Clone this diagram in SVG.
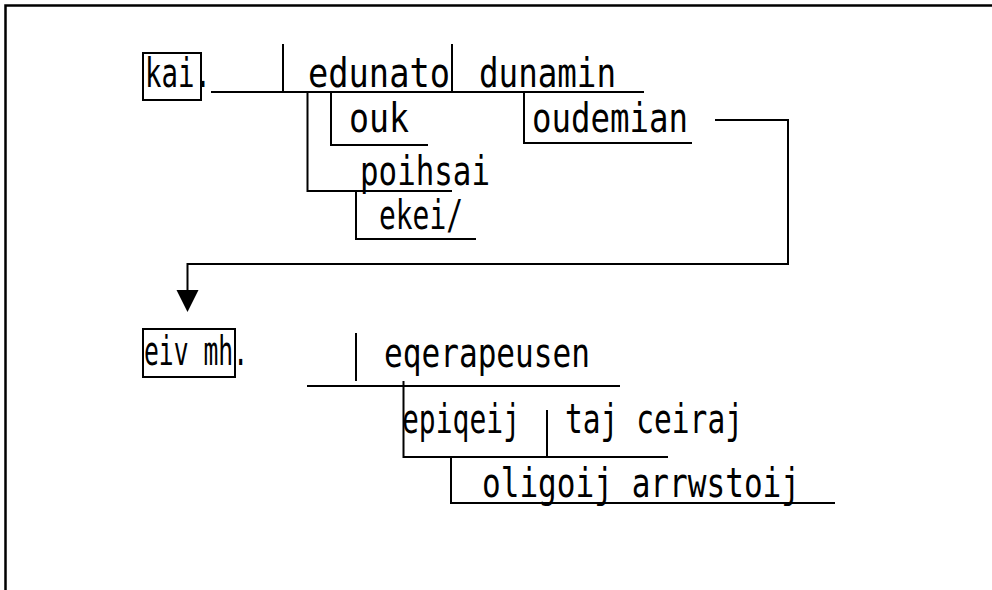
<svg xmlns="http://www.w3.org/2000/svg" width="992" height="590" viewBox="0 0 992 590">
<style>
.ln{fill:none;stroke:#000;stroke-width:2}
.bx{fill:none;stroke:#000;stroke-width:2}
.t{font-family:"DejaVu Sans Mono","Liberation Mono",monospace;font-size:41px;fill:#000}
</style>
<rect width="992" height="590" fill="#fff"/>
<path d="M5.5 590 V5.5 H992" fill="none" stroke="#000" stroke-width="2.5"/>
<g id="connectors">
<path class="ln" d="M211 92 H644"/>
<path class="ln" d="M283 44 V92"/>
<path class="ln" d="M452 44 V92"/>
<path class="ln" d="M307.5 93 V191 H452"/>
<path class="ln" d="M331 93 V145 H428"/>
<path class="ln" d="M356 191 V239 H476"/>
<path class="ln" d="M524 93 V143 H692"/>
<path class="ln" d="M715 120 H788 V264 H187.5 V290"/>
<path d="M176.5 290 L198.5 290 L187.5 312 Z" fill="#000"/>
<path class="ln" d="M307 386 H620"/>
<path class="ln" d="M356 333 V381"/>
<path class="ln" d="M403.5 381 V458"/>
<path class="ln" d="M403 457 H668"/>
<path class="ln" d="M547 410 V457"/>
<path class="ln" d="M451 457 V503 H835"/>
</g>
<g id="kai">
<rect class="bx" x="143" y="53" width="58" height="47"/>
<text class="t" x="145" y="87" textLength="66" lengthAdjust="spacingAndGlyphs">kai.</text>
</g>
<g id="edunato"><text class="t" x="308" y="87" textLength="142" lengthAdjust="spacingAndGlyphs">edunato</text></g>
<g id="dunamin"><text class="t" x="479" y="87" textLength="137" lengthAdjust="spacingAndGlyphs">dunamin</text></g>
<g id="ouk"><text class="t" x="349" y="132" textLength="60" lengthAdjust="spacingAndGlyphs">ouk</text></g>
<g id="oudemian"><text class="t" x="532" y="132" textLength="156" lengthAdjust="spacingAndGlyphs">oudemian</text></g>
<g id="poihsai"><text class="t" x="360" y="185" textLength="130" lengthAdjust="spacingAndGlyphs">poihsai</text></g>
<g id="ekei"><text class="t" x="379" y="229" textLength="84" lengthAdjust="spacingAndGlyphs">ekei/</text></g>
<g id="eivmh">
<rect class="bx" x="143" y="329" width="92" height="48"/>
<text class="t" x="144" y="365" textLength="104" lengthAdjust="spacingAndGlyphs">eiv mh.</text>
</g>
<g id="eqerapeusen"><text class="t" x="384" y="367" textLength="206" lengthAdjust="spacingAndGlyphs">eqerapeusen</text></g>
<g id="epiqeij"><text class="t" x="402" y="433" textLength="118" lengthAdjust="spacingAndGlyphs">epiqeij</text></g>
<g id="tajceiraj"><text class="t" x="565" y="433" textLength="178" lengthAdjust="spacingAndGlyphs">taj ceiraj</text></g>
<g id="oligoij"><text class="t" x="482" y="497" textLength="318" lengthAdjust="spacingAndGlyphs">oligoij arrwstoij</text></g>
</svg>
